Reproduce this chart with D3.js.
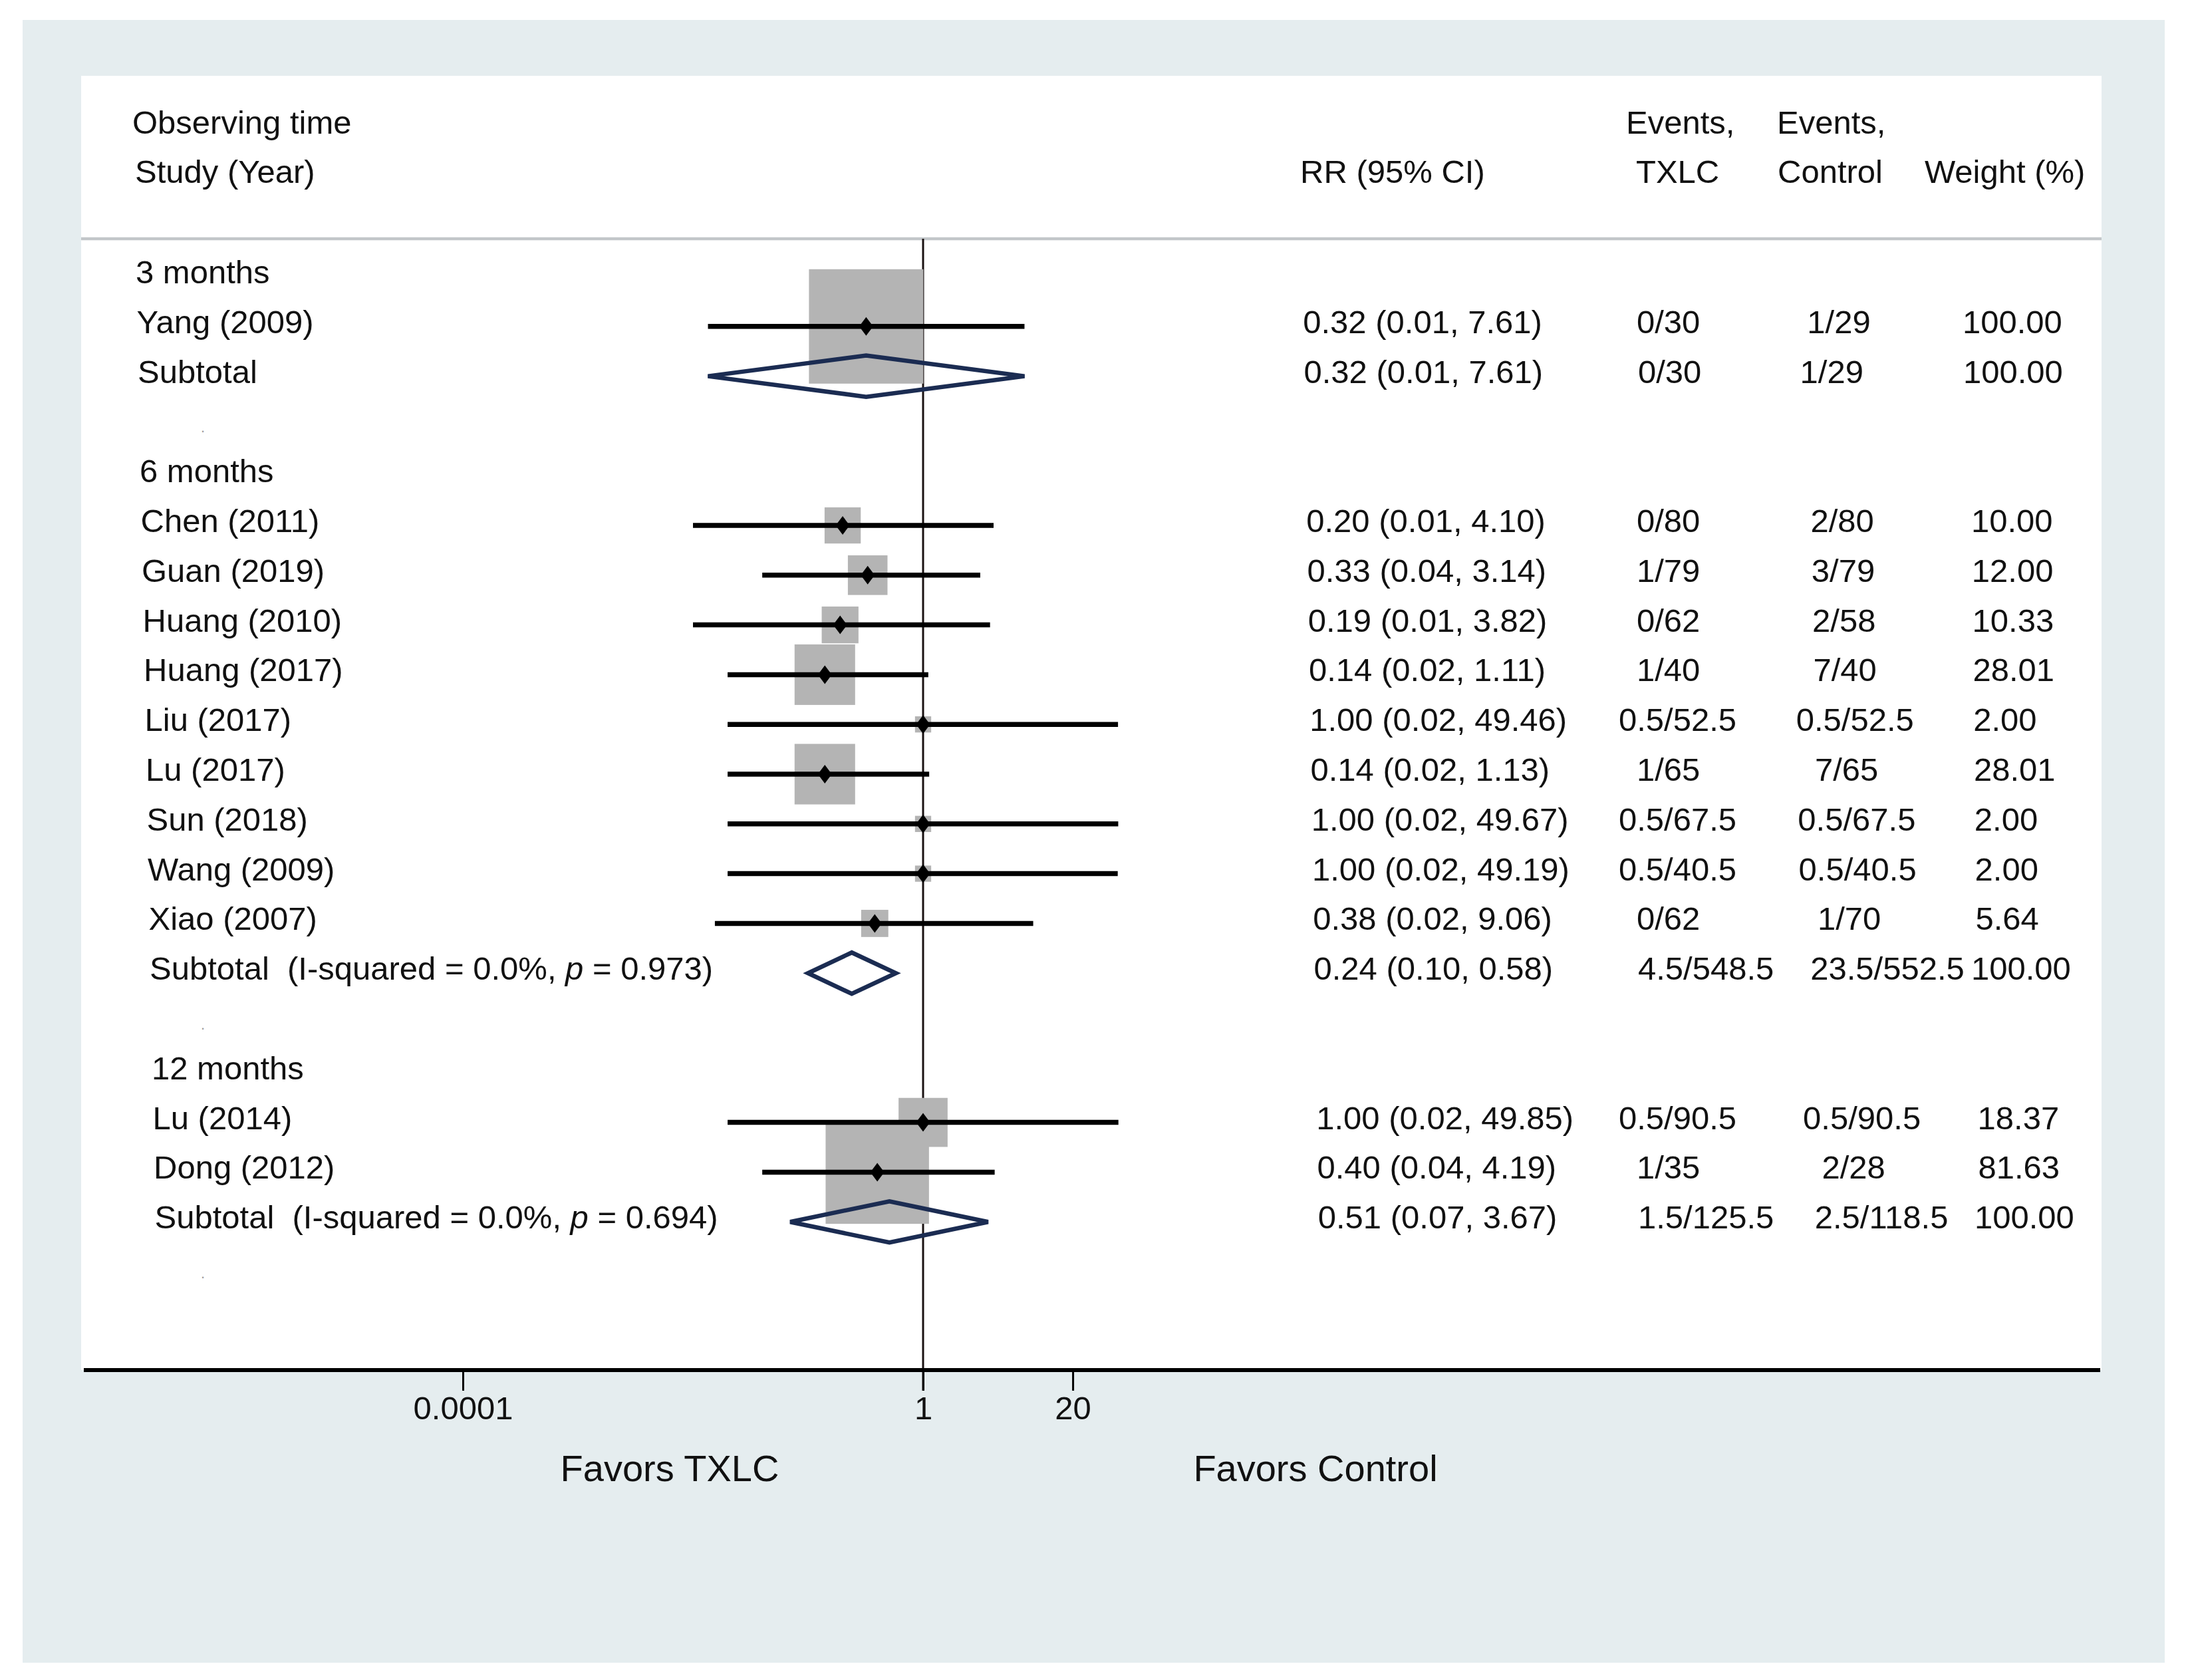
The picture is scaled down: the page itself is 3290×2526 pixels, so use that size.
<!DOCTYPE html>
<html lang="en">
<head>
<meta charset="UTF-8">
<title>Forest plot - TXLC vs Control</title>
<script src="https://d3js.org/d3.v7.min.js"></script>
<style>
    html, body { margin: 0; padding: 0; background: #ffffff; }
    svg { display: block; }
    text { font-family: "Liberation Sans", Arial, sans-serif; fill: #111; }
</style>
</head>
<body>
<svg id="chart"></svg>
<script>
// ---- data ----
const groups = ["3 months", "6 months", "12 months"];
const studies = ["Yang (2009)", "Chen (2011)", "Guan (2019)", "Huang (2010)", "Huang (2017)",
    "Liu (2017)", "Lu (2017)", "Sun (2018)", "Wang (2009)", "Xiao (2007)", "Lu (2014)", "Dong (2012)"];
const studyGroup = [0, 1, 1, 1, 1, 1, 1, 1, 1, 1, 2, 2];
const rr = [0.32, 0.20, 0.33, 0.19, 0.14, 1.00, 0.14, 1.00, 1.00, 0.38, 1.00, 0.40];
const ciLow = [0.0135, 0.01, 0.04, 0.01, 0.02, 0.02, 0.02, 0.02, 0.02, 0.0155, 0.02, 0.04];
const ciHigh = [7.61, 4.10, 3.14, 3.82, 1.11, 49.46, 1.13, 49.67, 49.19, 9.06, 49.85, 4.19];
const eventsTXLC = ["0/30", "0/80", "1/79", "0/62", "1/40", "0.5/52.5", "1/65", "0.5/67.5", "0.5/40.5", "0/62", "0.5/90.5", "1/35"];
const eventsControl = ["1/29", "2/80", "3/79", "2/58", "7/40", "0.5/52.5", "7/65", "0.5/67.5", "0.5/40.5", "1/70", "0.5/90.5", "2/28"];
const weights = [100.00, 10.00, 12.00, 10.33, 28.01, 2.00, 28.01, 2.00, 2.00, 5.64, 18.37, 81.63];

const subRR = [0.32, 0.24, 0.51];
const subLow = [0.0135, 0.10, 0.07];
const subHigh = [7.61, 0.58, 3.67];
const subI2 = [null, "0.0%", "0.0%"];
const subP = [null, "0.973", "0.694"];
const subEventsTXLC = ["0/30", "4.5/548.5", "1.5/125.5"];
const subEventsControl = ["1/29", "23.5/552.5", "2.5/118.5"];
const subWeights = [100.00, 100.00, 100.00];

const tickValues = [0.0001, 1, 20];

// ---- layout ----
const W = 3290, H = 2526;
const fs = 49;
const rowY0 = 426, rowStep = 74.8;
const baseY = r => rowY0 + rowStep * r;
const markY = r => baseY(r) - 10;
const axisY = 2060;

const svg = d3.select("#chart").attr("width", W).attr("height", H)
    .attr("viewBox", `0 0 ${W} ${H}`);

// backgrounds
svg.append("rect").attr("x", 34).attr("y", 30).attr("width", 3221).attr("height", 2470).attr("fill", "#e5edef");
svg.append("rect").attr("x", 122).attr("y", 114).attr("width", 3038).attr("height", axisY - 114).attr("fill", "#ffffff");

const x = d3.scaleLog().domain([0.0001, 1]).range([1388 - 4 * 173, 1388]);
const boxSize = d3.scaleSqrt().domain([0, 100]).range([0, 172]);

// build row list
const rows = [];
let r = 0;
groups.forEach((g, gi) => {
    rows.push({ type: "group", r: r++, gi });
    studies.forEach((s, i) => { if (studyGroup[i] === gi) rows.push({ type: "study", r: r++, i }); });
    rows.push({ type: "sub", r: r++, gi });
    rows.push({ type: "blank", r: r++ });
});

// header
const hdr = svg.append("g").style("font-size", fs + "px");
hdr.append("text").attr("x", 199).attr("y", 201).text("Observing time");
hdr.append("text").attr("x", 203).attr("y", 274.5).text("Study (Year)");
hdr.append("text").attr("x", 1955).attr("y", 274.5).text("RR (95% CI)");
hdr.append("text").attr("x", 2445).attr("y", 201).text("Events,");
hdr.append("text").attr("x", 2460).attr("y", 274.5).text("TXLC");
hdr.append("text").attr("x", 2672).attr("y", 201).text("Events,");
hdr.append("text").attr("x", 2673).attr("y", 274.5).text("Control");
hdr.append("text").attr("x", 2894).attr("y", 274.5).text("Weight (%)");

svg.append("line").attr("x1", 122).attr("x2", 3160).attr("y1", 359).attr("y2", 359)
    .attr("stroke", "#c2c6c9").attr("stroke-width", 4.5);

// reference line at RR = 1
svg.append("line").attr("x1", x(1)).attr("x2", x(1)).attr("y1", 359).attr("y2", axisY + 31)
    .attr("stroke", "#1a1212").attr("stroke-width", 3);

const studyRows = rows.filter(d => d.type === "study");
const subRows = rows.filter(d => d.type === "sub");

// weight boxes
svg.append("g").selectAll("rect").data(studyRows).join("rect")
    .attr("x", d => x(rr[d.i]) - boxSize(weights[d.i]) / 2)
    .attr("y", d => markY(d.r) - boxSize(weights[d.i]) / 2)
    .attr("width", d => boxSize(weights[d.i]))
    .attr("height", d => boxSize(weights[d.i]))
    .attr("fill", "#b4b4b4");

// confidence intervals
svg.append("g").selectAll("line").data(studyRows).join("line")
    .attr("x1", d => x(ciLow[d.i])).attr("x2", d => x(ciHigh[d.i]))
    .attr("y1", d => markY(d.r)).attr("y2", d => markY(d.r))
    .attr("stroke", "#000").attr("stroke-width", 7.5);

// point estimates
svg.append("g").selectAll("path").data(studyRows).join("path")
    .attr("d", d => {
        const cx = x(rr[d.i]), cy = markY(d.r);
        return `M${cx - 10.5},${cy}L${cx},${cy - 14}L${cx + 10.5},${cy}L${cx},${cy + 14}Z`;
    })
    .attr("fill", "#000");

// subtotal diamonds
svg.append("g").selectAll("path").data(subRows).join("path")
    .attr("d", d => {
        const cy = markY(d.r), g = d.gi;
        return `M${x(subLow[g])},${cy}L${x(subRR[g])},${cy - 31}L${x(subHigh[g])},${cy}L${x(subRR[g])},${cy + 31}Z`;
    })
    .attr("fill", "none").attr("stroke", "#1b2c52").attr("stroke-width", 6.5)
    .attr("stroke-linejoin", "miter");

// text columns
const fmt = v => v.toFixed(2);
const txt = svg.append("g").style("font-size", fs + "px");
const labelX = r => 204 + 1.5 * r;
const rrX = r => 1958 + 1.25 * r;
const txlcX = (s, isSub) => isSub ? 2463 : 2434 + (8 - s.length) * 6.75;
const ctrlBase = r => 2716 + 1.3 * r;
const ctrlX = (s, r, isSub) => isSub ? ctrlBase(r) - 12 : ctrlBase(r) + (4 - s.length) * 6.75;
const wX = (w, r) => w >= 100 ? 2950 + r : 2960 + 0.8 * r;

rows.forEach(d => {
    const y = baseY(d.r);
    if (d.type === "group") {
        txt.append("text").attr("x", labelX(d.r)).attr("y", y).text(groups[d.gi]);
    } else if (d.type === "blank") {
        txt.append("text").attr("x", 302).attr("y", y).style("font-size", "22px")
            .style("fill", "#9a9a9a").text(".");
    } else if (d.type === "study") {
        const i = d.i;
        txt.append("text").attr("x", labelX(d.r)).attr("y", y).text(studies[i]);
        txt.append("text").attr("x", rrX(d.r)).attr("y", y)
            .text(`${fmt(rr[i])} (${fmt(ciLow[i])}, ${fmt(ciHigh[i])})`);
        txt.append("text").attr("x", txlcX(eventsTXLC[i], false)).attr("y", y).text(eventsTXLC[i]);
        txt.append("text").attr("x", ctrlX(eventsControl[i], d.r, false)).attr("y", y).text(eventsControl[i]);
        txt.append("text").attr("x", wX(weights[i], d.r)).attr("y", y).text(fmt(weights[i]));
    } else {
        const g = d.gi;
        const t = txt.append("text").attr("x", labelX(d.r)).attr("y", y).style("white-space", "pre");
        if (subI2[g] === null) {
            t.text("Subtotal");
        } else {
            t.append("tspan").text(`Subtotal  (I-squared = ${subI2[g]}, `);
            t.append("tspan").style("font-style", "italic").text("p");
            t.append("tspan").text(` = ${subP[g]})`);
        }
        txt.append("text").attr("x", rrX(d.r)).attr("y", y)
            .text(`${fmt(subRR[g])} (${fmt(subLow[g])}, ${fmt(subHigh[g])})`);
        txt.append("text").attr("x", txlcX(subEventsTXLC[g], true)).attr("y", y).text(subEventsTXLC[g]);
        txt.append("text").attr("x", ctrlX(subEventsControl[g], d.r, true)).attr("y", y).text(subEventsControl[g]);
        txt.append("text").attr("x", wX(subWeights[g], d.r)).attr("y", y).text(fmt(subWeights[g]));
    }
});

// x axis
svg.append("line").attr("x1", 126).attr("x2", 3158).attr("y1", axisY).attr("y2", axisY)
    .attr("stroke", "#000").attr("stroke-width", 6);

const axis = d3.axisBottom(x).tickValues(tickValues).tickSize(31)
    .tickFormat(d => d < 1 ? "0.0001" : String(d));
svg.append("g").attr("transform", `translate(0,${axisY})`).call(axis)
    .call(g => g.select(".domain").remove())
    .call(g => g.selectAll(".tick line").attr("stroke", "#000").attr("stroke-width", 3))
    .call(g => g.selectAll(".tick text").attr("y", 73.5).attr("dy", 0)
        .style("font-size", fs + "px").style("font-family", "'Liberation Sans', Arial, sans-serif")
        .attr("fill", "#111"));

svg.append("text").attr("x", 1007).attr("y", 2227).attr("text-anchor", "middle")
    .style("font-size", "56px").text("Favors TXLC");
svg.append("text").attr("x", 1978).attr("y", 2227).attr("text-anchor", "middle")
    .style("font-size", "56px").text("Favors Control");
</script>
</body>
</html>
